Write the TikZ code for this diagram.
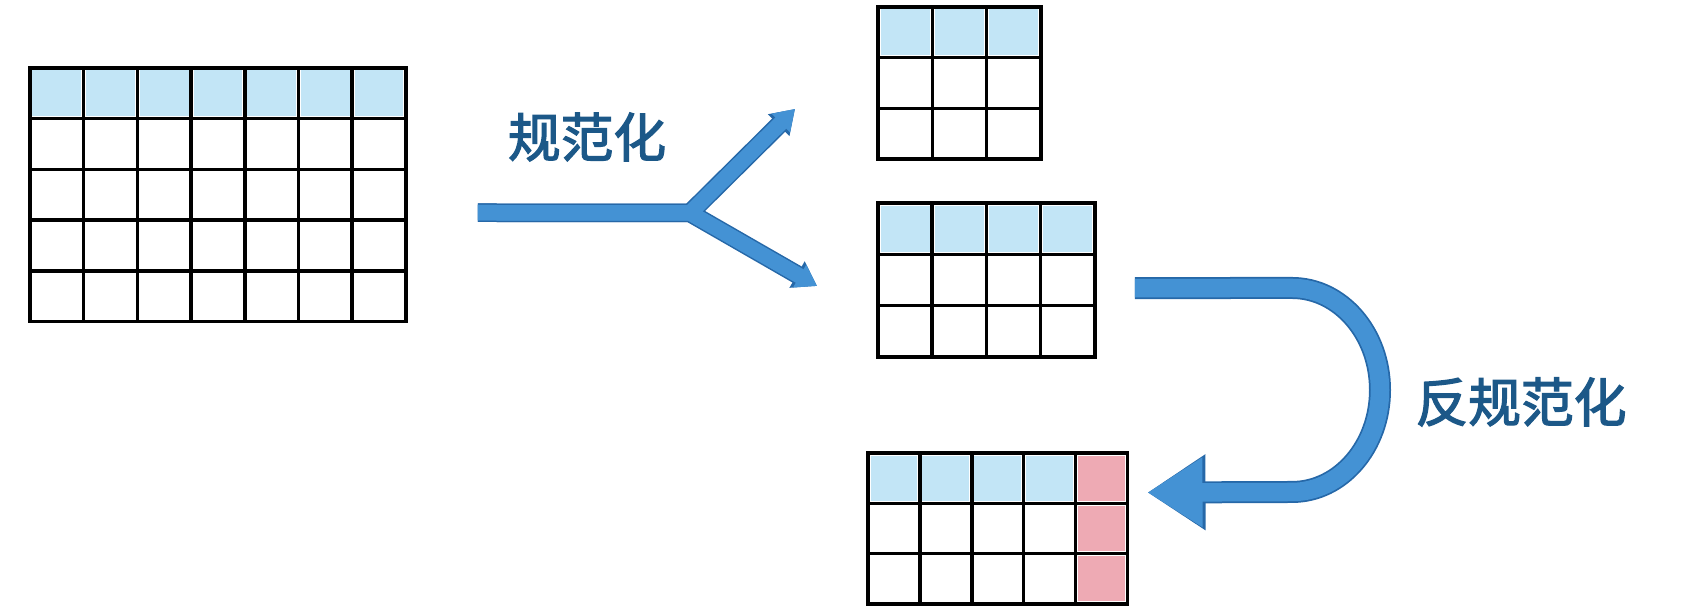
\documentclass[tikz,border=0pt]{standalone}
\usepackage{fontspec}
\newfontfamily\cjk[FakeBold=2.5]{Noto Sans CJK SC}
\usepackage{tikz}
\usetikzlibrary{arrows.meta,positioning,calc}
\usepackage{xcolor}
\definecolor{arrowblue}{RGB}{68,146,212}
\definecolor{arrowedge}{RGB}{38,104,168}
\definecolor{headblue}{RGB}{194,229,246}
\definecolor{headpink}{RGB}{238,170,180}
\definecolor{labelblue}{RGB}{28,88,136}

\begin{document}
\begin{tikzpicture}[
 gridline/.style={line width=1pt,black},
 tabframe/.style={draw,line width=1pt,inner sep=0pt,outer sep=0pt},
 headcell/.style={fill=headblue},
 pinkcell/.style={fill=headpink},
 flowedge/.style={draw=arrowedge,line width=0.185cm,line join=round,-{Triangle[length=0.23cm,width=0.29cm]}},
 flow/.style={draw=arrowblue,line width=0.155cm,line join=round,-{Triangle[length=0.2cm,width=0.25cm]}},
 bigflowedge/.style={draw=arrowedge,line width=0.22cm,-{Triangle[length=0.58cm,width=0.72cm]}},
 bigflow/.style={draw=arrowblue,line width=0.185cm,-{Triangle[length=0.55cm,width=0.66cm]}},
 cnlabel/.style={font=\cjk\fontsize{15pt}{15pt}\selectfont,text=labelblue,inner sep=0pt}]
\useasboundingbox (0,0) rectangle (16.88,6.16);
% ---------- source table, 7 x 5
\begin{scope}[shift={(0.30,2.945)}]
\foreach \i in {0,...,6}
 \fill[headcell] (\i*0.537+0.025,2.053) rectangle (\i*0.537+0.512,2.51);
\foreach \i in {1,...,6} \draw[gridline] (\i*0.537,0)--(\i*0.537,2.535);
\foreach \j in {1,...,4} \draw[gridline] (0,\j*0.507)--(3.759,\j*0.507);
\node[tabframe,minimum width=3.759cm,minimum height=2.535cm,anchor=south west] (tabA) at (0,0){};
\end{scope}
% ---------- normalised tables
\begin{scope}[shift={(8.78,4.57)}]
\foreach \i in {0,...,2}
 \fill[headcell] (\i*0.543+0.025,1.039) rectangle (\i*0.543+0.518,1.496);
\foreach \i in {1,2} \draw[gridline] (\i*0.543,0)--(\i*0.543,1.521);
\foreach \j in {1,2} \draw[gridline] (0,\j*0.507)--(1.629,\j*0.507);
\node[tabframe,minimum width=1.629cm,minimum height=1.521cm,anchor=south west] (tabB) at (0,0){};
\end{scope}
\begin{scope}[shift={(8.78,2.59)}]
\foreach \i in {0,...,3}
 \fill[headcell] (\i*0.542+0.025,1.051) rectangle (\i*0.542+0.517,1.514);
\foreach \i in {1,...,3} \draw[gridline] (\i*0.542,0)--(\i*0.542,1.539);
\foreach \j in {1,2} \draw[gridline] (0,\j*0.513)--(2.168,\j*0.513);
\node[tabframe,minimum width=2.168cm,minimum height=1.539cm,anchor=south west] (tabC) at (0,0){};
\end{scope}
% ---------- restored table with extra column
\begin{scope}[shift={(8.68,0.12)}]
\foreach \i in {0,...,3}
 \fill[headcell] (\i*0.519+0.025,1.031) rectangle (\i*0.519+0.494,1.484);
\foreach \j in {0,...,2}
 \fill[pinkcell] (2.101,\j*0.503+0.025) rectangle (2.570,\j*0.503+0.478);
\foreach \i in {1,...,4} \draw[gridline] (\i*0.519,0)--(\i*0.519,1.509);
\foreach \j in {1,2} \draw[gridline] (0,\j*0.503)--(2.595,\j*0.503);
\node[tabframe,minimum width=2.595cm,minimum height=1.509cm,anchor=south west] (tabD) at (0,0){};
\end{scope}
% ---------- split arrow
\coordinate (norm) at ($(tabA.east)+(0.72,-0.18)$);
\coordinate (split) at (6.90,4.03);
\coordinate (upEnd) at (7.95,5.07);
\coordinate (downEnd) at (8.17,3.30);
\foreach \e in {upEnd,downEnd} \draw[flowedge] (norm)--(split)--(\e);
\foreach \e in {upEnd,downEnd} \draw[flow] (norm)--(split)--(\e);
\node[cnlabel] (normlbl) at (5.87,4.79){规范化};
% ---------- back arrow
\coordinate (ustart) at ($(tabC.east)+(0.40,-0.08)$);
\coordinate (utip) at ($(tabD.east)+(0.20,0.36)$);
\draw[bigflowedge] (ustart)--(12.92,3.28) arc[start angle=90,end angle=-90,x radius=0.88,y radius=1.02]--(utip);
\draw[bigflow] (ustart)--(12.92,3.28) arc[start angle=90,end angle=-90,x radius=0.88,y radius=1.02]--(utip);
\node[cnlabel] (denormlbl) at (15.21,2.14){反规范化};
\end{tikzpicture}
\end{document}
